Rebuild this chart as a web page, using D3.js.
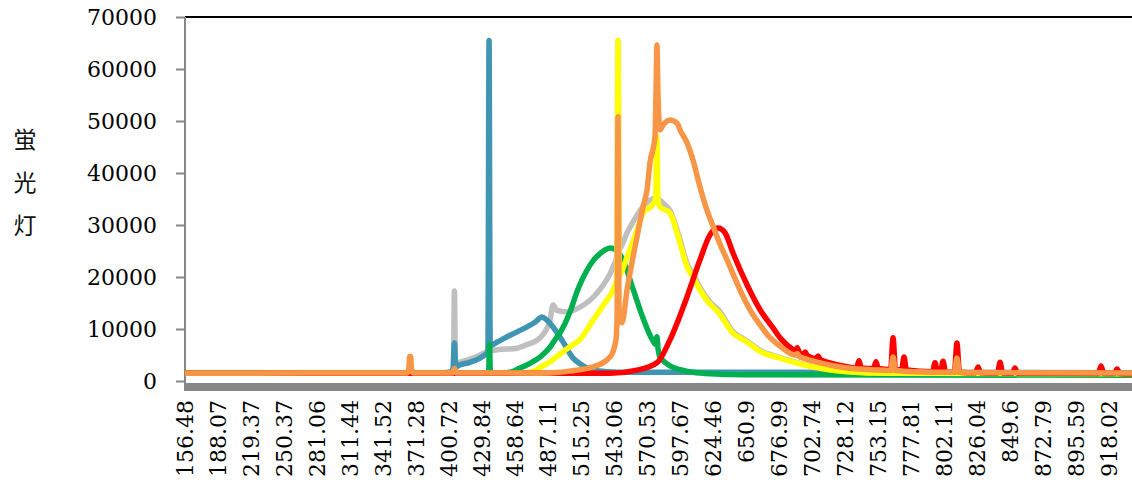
<!DOCTYPE html>
<html>
<head>
<meta charset="utf-8">
<script src="https://cdn.jsdelivr.net/npm/d3@7"></script>
<style>
  body { margin: 0; background: #fff; }
  svg { display: block; }
</style>
</head>
<body>
<div id="chart"></div>
<script>
////////// DATA //////////

// category labels shown on the x axis (wavelength, nm)
var wavelengthTicks = [156.48, 188.07, 219.37, 250.37, 281.06, 311.44, 341.52, 371.28, 400.72,
    429.84, 458.64, 487.11, 515.25, 543.06, 570.53, 597.67, 624.46, 650.9, 676.99, 702.74,
    728.12, 753.15, 777.81, 802.11, 826.04, 849.6, 872.79, 895.59, 918.02];

var countTicks = [0, 10000, 20000, 30000, 40000, 50000, 60000, 70000];

var yLabelChars = ["蛍", "光", "灯"];

// [wavelength, counts]
var graySeries = [[156.48, 1500], [392.7, 1600], [403.0, 1800], [404.6, 2200], [405.5, 17300],
    [406.4, 2500], [410.4, 3600], [416.6, 4000], [428.1, 5000], [434.2, 5600], [443.1, 6000],
    [460.4, 6300], [469.0, 7000], [480.2, 8300], [488.8, 11700], [491.4, 14600], [494.8, 13600],
    [503.4, 13300], [514.4, 14200], [528.7, 16900], [542.2, 21900], [545.4, 24000], [546.4, 65500],
    [547.4, 25500], [553.9, 28500], [567.2, 33500], [573.0, 34800], [577.9, 35200], [583.7, 34200],
    [589.4, 32800], [597.67, 27200], [603.4, 22600], [608.2, 20600], [613.9, 18000], [624.46, 14600],
    [627.7, 14000], [640.5, 9500], [651.7, 7700], [662.0, 5900], [677.8, 4500], [703.5, 2800],
    [729.6, 1900], [760.0, 1600], [933.7, 1500]];

var blueSeries = [[156.48, 1480], [392.7, 1500], [401.6, 1700], [404.2, 2300], [405.5, 7300],
    [406.8, 2800], [410.4, 3100], [419.2, 3600], [428.1, 4400], [433.3, 5200], [435.0, 5600],
    [436.0, 65500], [437.0, 6800], [443.1, 7500], [454.4, 8800], [469.0, 10400], [475.9, 11300],
    [481.9, 12300], [486.2, 11700], [491.4, 10400], [500.0, 7500], [508.5, 4400], [514.4, 3300],
    [520.3, 2500], [528.7, 2000], [537.2, 1800], [556.4, 1700], [933.7, 1600]];

var greenSeries = [[156.48, 1480], [434.9, 1480], [435.6, 1500], [436.4, 7000], [437.2, 1500],
    [443.1, 1500], [454.4, 1700], [463.0, 2500], [471.5, 3400], [480.2, 4600], [488.8, 6500],
    [494.8, 8500], [497.4, 9300], [505.9, 13300], [511.9, 17200], [516.0, 19400], [520.3, 21300],
    [526.0, 23300], [531.3, 24500], [535.5, 25200], [539.7, 25600], [542.2, 25500], [546.4, 24800],
    [550.5, 23300], [558.9, 17700], [567.2, 12100], [575.5, 7700], [577.8, 7000], [578.7, 8500],
    [579.6, 6200], [581.2, 4600], [583.7, 3900], [589.4, 2900], [597.67, 2200], [608.2, 1700],
    [622.0, 1400], [650.0, 1200], [933.7, 1100]];

var yellowSeries = [[156.48, 1480], [463.0, 1500], [475.0, 1900], [480.2, 2600], [489.0, 3700],
    [497.4, 5200], [505.9, 6600], [514.4, 8000], [525.4, 11700], [533.8, 14500], [542.2, 17500],
    [545.4, 19500], [546.4, 65500], [547.4, 20500], [553.9, 23800], [562.2, 29000], [567.2, 32300],
    [575.5, 34000], [577.6, 35000], [578.6, 47000], [579.6, 35000], [581.2, 33500], [589.4, 32300],
    [597.67, 26500], [603.4, 22000], [608.2, 20000], [613.9, 17500], [624.46, 14200], [627.7, 13500],
    [640.5, 9200], [651.7, 7500], [662.0, 5700], [677.8, 4400], [703.5, 2700], [729.6, 1800],
    [760.0, 1500], [933.7, 1400]];

var redSeries = [[156.48, 1480], [540.0, 1500], [562.2, 2100], [578.7, 3500], [589.4, 7900],
    [603.4, 16200], [613.9, 23300], [622.0, 28100], [628.5, 29400], [634.1, 28500], [640.5, 24600],
    [651.7, 18500], [662.0, 13700], [672.3, 10200], [677.8, 8300], [688.1, 6000], [689.5, 5800],
    [691.2, 6400], [692.8, 5500], [695.8, 5100], [697.4, 5600], [699.0, 4900], [705.8, 4300],
    [707.4, 4800], [709.0, 4100], [716.6, 3500], [726.6, 2900], [736.9, 2500], [738.7, 3900],
    [740.5, 2500], [749.8, 2400], [751.6, 3700], [753.4, 2400], [762.6, 2200], [764.4, 8300],
    [766.2, 2200], [770.8, 2100], [772.6, 4600], [774.4, 2100], [793.7, 1800], [795.5, 3500],
    [797.3, 1800], [799.6, 1750], [801.4, 3800], [803.2, 1750], [809.7, 1700], [811.5, 7300],
    [813.3, 1700], [825.0, 1600], [826.8, 2700], [828.6, 1600], [840.7, 1550], [842.5, 3600],
    [844.3, 1550], [851.3, 1500], [853.1, 2500], [854.9, 1500], [910.8, 1450], [912.6, 2900],
    [914.4, 1450], [921.7, 1450], [923.5, 2300], [925.3, 1450], [933.7, 1400]];

var orangeSeries = [[156.48, 1500], [363.4, 1550], [364.9, 2600], [365.5, 4700], [366.5, 4700],
    [367.1, 2600], [368.6, 1550], [403.8, 1550], [405.5, 2400], [407.2, 1550], [480.0, 1500],
    [497.4, 1700], [525.4, 2700], [539.7, 4600], [544.7, 7900], [545.6, 12000], [546.4, 50800],
    [547.3, 12000], [549.7, 11200], [553.9, 17500], [562.2, 27700], [567.2, 33500], [570.5, 36700],
    [573.0, 42000], [577.1, 47000], [577.9, 55000], [578.7, 64600], [579.6, 55000], [581.2, 48300],
    [583.7, 49200], [589.4, 50200], [595.2, 49600], [597.67, 48300], [603.4, 45800], [608.2, 42500],
    [613.9, 37300], [619.6, 32800], [624.46, 29800], [630.1, 26300], [635.7, 23300], [640.5, 20600],
    [646.1, 17500], [654.1, 13700], [662.0, 10800], [667.5, 9000], [677.8, 6700], [689.5, 5000],
    [691.2, 5300], [692.8, 4700], [697.4, 4300], [708.9, 3500], [729.6, 2500], [754.6, 2100],
    [762.6, 2000], [764.4, 4600], [766.2, 2000], [779.3, 1800], [809.7, 1700], [811.5, 4400],
    [813.3, 1700], [860.0, 1600], [933.7, 1550]];

////////// LAYOUT //////////

var margin = { top: 17, left: 185 },
    width = 947,
    height = 364,
    tickStep = 33;

var series = [
    { key: "gray",   values: graySeries,   color: "#BFBFBF" },
    { key: "blue",   values: blueSeries,   color: "#4095B2" },
    { key: "green",  values: greenSeries,  color: "#00B050" },
    { key: "yellow", values: yellowSeries, color: "#FFFF00" },
    { key: "red",    values: redSeries,    color: "#FF0000" },
    { key: "orange", values: orangeSeries, color: "#F79646" }
];

var svg = d3.select("#chart").append("svg")
    .attr("width", 1132)
    .attr("height", 484)
    .style("background", "#fff");

var g = svg.append("g")
    .attr("transform", "translate(" + margin.left + "," + margin.top + ")");

// category axis: each label sits a fixed step apart, wavelengths in between are spaced piecewise
var x = d3.scaleLinear()
    .domain(wavelengthTicks)
    .range(wavelengthTicks.map(function(d, i) { return i * tickStep; }));

var y = d3.scaleLinear()
    .domain([0, 70000])
    .range([height, 0]);

g.append("clipPath").attr("id", "plotclip")
  .append("rect")
    .attr("x", 0).attr("y", -5)
    .attr("width", width).attr("height", height + 5);

// dense category tick marks merge into a grey band
g.append("rect")
    .attr("x", 0)
    .attr("y", y(0) + 2)
    .attr("width", width)
    .attr("height", 8)
    .style("fill", "#878787");

// top border
g.append("line")
    .attr("x1", 0).attr("x2", width)
    .attr("y1", 0).attr("y2", 0)
    .style("stroke", "#000")
    .style("stroke-width", 2);

// y axis
var yAxis = g.append("g")
    .call(d3.axisLeft(y).tickValues(countTicks).tickSize(9).tickPadding(19)
        .tickFormat(function(d) { return d; }));
yAxis.select(".domain").remove();
yAxis.selectAll(".tick line").style("stroke", "#878787").style("stroke-width", 2);
yAxis.selectAll("text")
    .style("font-family", "'DejaVu Serif', serif")
    .style("font-size", "22px")
    .style("fill", "#000");

g.append("line")
    .attr("x1", 0).attr("x2", 0)
    .attr("y1", 0).attr("y2", y(0) + 10)
    .style("stroke", "#878787")
    .style("stroke-width", 2);

// x axis labels
var xAxis = g.append("g")
    .attr("transform", "translate(0," + (y(0) + 10) + ")")
    .call(d3.axisBottom(x).tickValues(wavelengthTicks).tickSize(0)
        .tickFormat(function(d) { return String(d); }));
xAxis.select(".domain").remove();
xAxis.selectAll("text")
    .attr("transform", "rotate(-90)")
    .attr("x", -9)
    .attr("y", 0)
    .attr("dy", "0.35em")
    .style("text-anchor", "end")
    .style("font-family", "'DejaVu Serif', serif")
    .style("font-size", "22px")
    .style("fill", "#000");

// lines
var line = d3.line()
    .x(function(d) { return x(d[0]); })
    .y(function(d) { return y(d[1]); })
    .curve(d3.curveMonotoneX);

g.append("g")
    .attr("clip-path", "url(#plotclip)")
  .selectAll(".series")
    .data(series)
  .enter().append("path")
    .attr("class", "series")
    .attr("d", function(d) { return line(d.values); })
    .style("fill", "none")
    .style("stroke", function(d) { return d.color; })
    .style("stroke-width", 5.5)
    .style("stroke-linejoin", "round")
    .style("stroke-linecap", "round");

// vertical y title
svg.append("text")
    .attr("x", 25)
    .attr("y", 140)
    .style("font-family", "'Noto Sans CJK JP', sans-serif")
    .style("font-size", "23px")
    .style("fill", "#111")
    .style("text-anchor", "middle")
  .selectAll("tspan")
    .data(yLabelChars)
  .enter().append("tspan")
    .attr("x", 25)
    .attr("dy", function(d, i) { return i === 0 ? "0.35em" : 43; })
    .text(function(d) { return d; });
</script>
</body>
</html>
